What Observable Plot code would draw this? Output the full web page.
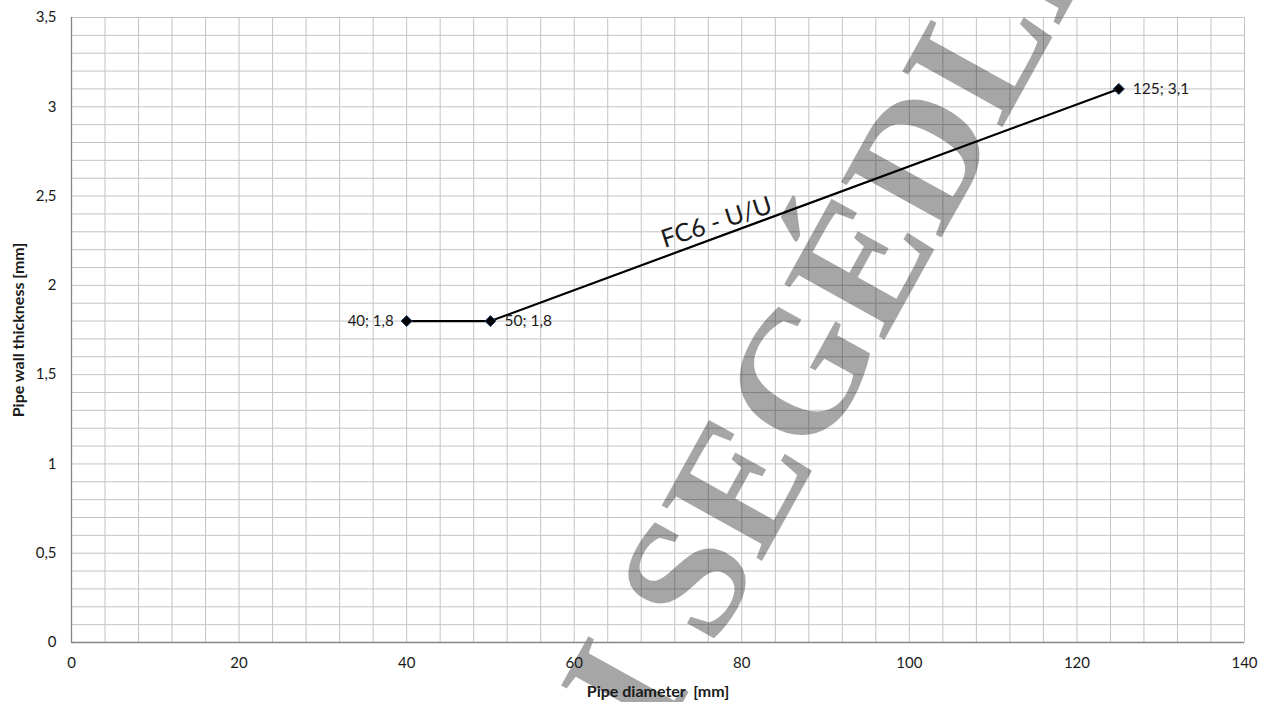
<!DOCTYPE html>
<html><head><meta charset="utf-8">
<script src="https://cdn.jsdelivr.net/npm/d3@7"></script>
<script src="https://cdn.jsdelivr.net/npm/@observablehq/plot@0.6"></script>
<style>html,body{margin:0;padding:0;background:#fff} svg{display:block}</style>
</head><body><div id="chart"></div>
<script>
// ---- data ----
const diameters = [40, 50, 125];
const thickness = [1.8, 1.8, 3.1];
const pointLabels = ["40; 1,8", "50; 1,8", "125; 3,1"];
const labelSides = ["left", "right", "right"];
const seriesName = "FC6 - U/U";
const xTicks = [0, 20, 40, 60, 80, 100, 120, 140];
const yTicks = [0, 0.5, 1, 1.5, 2, 2.5, 3, 3.5];
const xGrid = d3.range(0, 141, 4);
const yGrid = d3.range(0, 36).map(i => i / 10);
const xTitle = "Pipe diameter  [mm]";
const yTitle = "Pipe wall thickness [mm]";
const watermarkBefore = "TERVEZÉSI";
const watermarkAfter = "SEGÉDLET";

const points = diameters.map((d, i) => ({x: d, y: thickness[i], label: pointLabels[i], side: labelSides[i]}));
const fmt = v => String(v).replace(".", ",");
const seriesLabelX = 77;
const seriesLabelY = thickness[1] + (seriesLabelX - diameters[1]) / (diameters[2] - diameters[1]) * (thickness[2] - thickness[1]);
const wmFont = "'Liberation Serif', 'DejaVu Serif', serif";

const chart = Plot.plot({
  width: 1266,
  height: 702,
  marginLeft: 71,
  marginRight: 22,
  marginTop: 17,
  marginBottom: 60,
  x: {domain: [0, 140]},
  y: {domain: [0, 3.5]},
  style: {fontFamily: "Lato, 'Open Sans', sans-serif", background: "white", color: "#1a1a1a", overflow: "visible"},
  marks: [
    Plot.ruleX(xGrid, {stroke: "#c4c4c4", strokeWidth: 1}),
    Plot.ruleY(yGrid, {stroke: "#c4c4c4", strokeWidth: 1}),
    // watermark
    Plot.text([watermarkAfter], {x: () => 76.6, y: () => -0.034, textAnchor: "start", lineAnchor: "bottom", rotate: -61,
      fontSize: 175, fontWeight: "bold", fontFamily: wmFont, fill: "black", fillOpacity: 0.35}),
    Plot.text([watermarkBefore], {x: () => 74.0, y: () => -0.247, textAnchor: "end", lineAnchor: "bottom", rotate: -61,
      fontSize: 175, fontWeight: "bold", fontFamily: wmFont, fill: "black", fillOpacity: 0.35}),
    Plot.ruleX([0], {stroke: "#858585", strokeWidth: 1.3}),
    Plot.ruleY([0], {stroke: "#858585", strokeWidth: 1.3}),
    Plot.axisX(xTicks, {tickSize: 0, tickPadding: 15, fontSize: 15, label: null}),
    Plot.axisY(yTicks, {tickSize: 0, tickPadding: 15, fontSize: 15, tickFormat: fmt, label: null}),
    Plot.text([xTitle], {frameAnchor: "bottom", textAnchor: "middle", lineAnchor: "middle", dy: 49, fontSize: 16, fontWeight: "bold", letterSpacing: "0.5px"}),
    Plot.text([yTitle], {frameAnchor: "left", textAnchor: "middle", lineAnchor: "middle", dx: -53, rotate: -90, fontSize: 16, fontWeight: "bold", letterSpacing: "0.5px"}),
    Plot.line(points, {x: "x", y: "y", stroke: "black", strokeWidth: 2.2}),
    Plot.dot(points, {x: "x", y: "y", symbol: "diamond2", r: 5, fill: "black", stroke: "#1f3f6e", strokeWidth: 1}),
    Plot.text(points.filter(d => d.side === "left"), {x: "x", y: "y", text: "label", textAnchor: "end", dx: -13, fontSize: 15}),
    Plot.text(points.filter(d => d.side === "right"), {x: "x", y: "y", text: "label", textAnchor: "start", dx: 14, fontSize: 15.5}),
    Plot.text([seriesName], {x: () => seriesLabelX, y: () => seriesLabelY, rotate: -18, dx: 0, dy: -15, fontSize: 25, letterSpacing: "0.6px"})
  ]
});
document.getElementById("chart").appendChild(chart);
</script>
</body></html>
